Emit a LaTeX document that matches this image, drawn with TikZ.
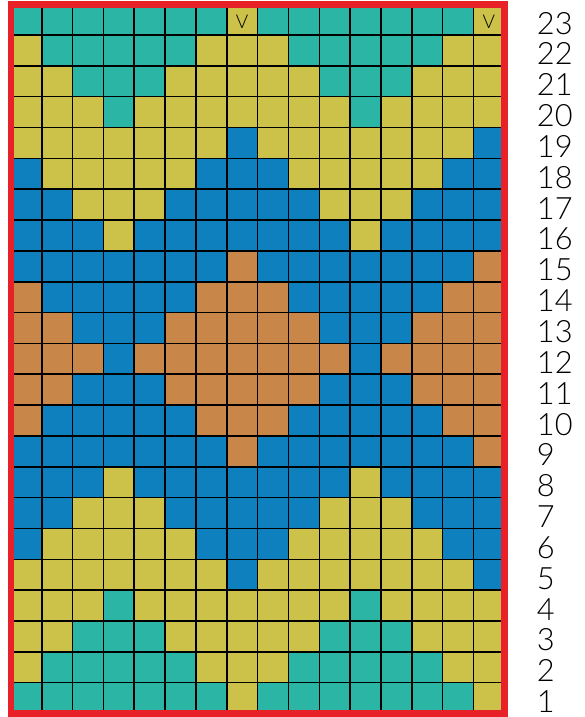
\documentclass[tikz,border=0pt]{standalone}
\usepackage{fontspec}
\setmainfont{Lato}
\newfontfamily\lightfont{Lato Light}
\usepackage{xcolor}
\definecolor{ct}{HTML}{2BB5A5}
\definecolor{cy}{HTML}{CCC24A}
\definecolor{cb}{HTML}{0E80BE}
\definecolor{co}{HTML}{C98649}
\definecolor{chartred}{HTML}{E82027}

\begin{document}
\begin{tikzpicture}[x=0.8cm, y=0.8cm,
  gridline/.style={black, line width=1.15pt},
  frame/.style={draw=chartred, line width=4.9pt},
  rowlbl/.style={anchor=base west, inner sep=0pt, font=\lightfont\fontsize{22.7}{24}\selectfont},
  slip/.style={inner sep=0pt, font=\lightfont\fontsize{14}{15}\selectfont}
]
  \useasboundingbox (-0.354,-0.114) rectangle (18.607,23.136);

  % Chart cells, row 23 at the top
  \foreach \row [count=\r] in {
    {t,t,t,t,t,t,t,y,t,t,t,t,t,t,t,y},
    {y,t,t,t,t,t,y,y,y,t,t,t,t,t,y,y},
    {y,y,t,t,t,y,y,y,y,y,t,t,t,y,y,y},
    {y,y,y,t,y,y,y,y,y,y,y,t,y,y,y,y},
    {y,y,y,y,y,y,y,b,y,y,y,y,y,y,y,b},
    {b,y,y,y,y,y,b,b,b,y,y,y,y,y,b,b},
    {b,b,y,y,y,b,b,b,b,b,y,y,y,b,b,b},
    {b,b,b,y,b,b,b,b,b,b,b,y,b,b,b,b},
    {b,b,b,b,b,b,b,o,b,b,b,b,b,b,b,o},
    {o,b,b,b,b,b,o,o,o,b,b,b,b,b,o,o},
    {o,o,b,b,b,o,o,o,o,o,b,b,b,o,o,o},
    {o,o,o,b,o,o,o,o,o,o,o,b,o,o,o,o},
    {o,o,b,b,b,o,o,o,o,o,b,b,b,o,o,o},
    {o,b,b,b,b,b,o,o,o,b,b,b,b,b,o,o},
    {b,b,b,b,b,b,b,o,b,b,b,b,b,b,b,o},
    {b,b,b,y,b,b,b,b,b,b,b,y,b,b,b,b},
    {b,b,y,y,y,b,b,b,b,b,y,y,y,b,b,b},
    {b,y,y,y,y,y,b,b,b,y,y,y,y,y,b,b},
    {y,y,y,y,y,y,y,b,y,y,y,y,y,y,y,b},
    {y,y,y,t,y,y,y,y,y,y,y,t,y,y,y,y},
    {y,y,t,t,t,y,y,y,y,y,t,t,t,y,y,y},
    {y,t,t,t,t,t,y,y,y,t,t,t,t,t,y,y},
    {t,t,t,t,t,t,t,y,t,t,t,t,t,t,t,y}}{
    \pgfmathsetmacro{\ypos}{23-\r}
    \foreach \c [count=\x] in \row
      \fill[fill=c\c] (\x-1, \ypos) rectangle (\x, \ypos+1);
  }
  \draw[gridline] (0,0) grid[step=0.8cm] (16,23);
  \draw[frame] (0,0) rectangle (16,23);

  % Slip stitches in the top row
  \node[slip] (slipA) at (7.5,22.42) {V};
  \node[slip] (slipB) at (15.5,22.42) {V};

  % Row numbers
  \foreach \r in {1,...,23}
    \node[rowlbl] (row\r) at (17.05,\r-0.97) {\r};
\end{tikzpicture}
\end{document}
